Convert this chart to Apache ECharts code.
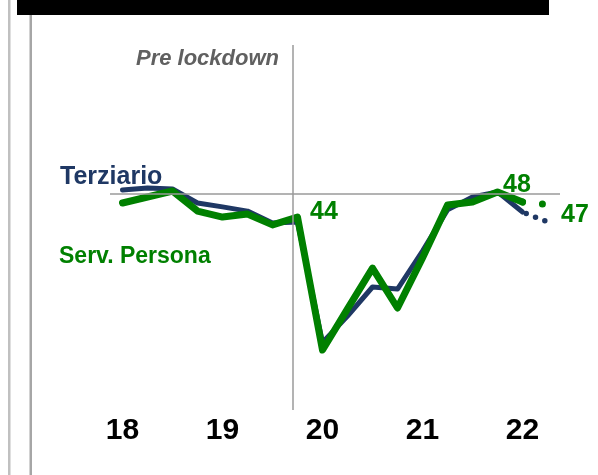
<!DOCTYPE html>
<html>
<head>
<meta charset="utf-8">
<script src="https://cdn.jsdelivr.net/npm/echarts@6/dist/echarts.min.js"></script>
<style>
  html, body { margin: 0; padding: 0; background: #ffffff; }
  #chart { width: 598px; height: 475px; }
</style>
</head>
<body>
<div id="chart"></div>
<script>
// ---- data ----
const quarters = ['2018 T1','2018 T2','2018 T3','2018 T4','2019 T1','2019 T2','2019 T3','2019 T4',
                  '2020 T1','2020 T2','2020 T3','2020 T4','2021 T1','2021 T2','2021 T3','2021 T4',
                  '2022 T1','2022 T2'];
const yearTicks = ['18','19','20','21','22'];
const terziario   = [48.4, 48.75, 48.6, 46.25, 45.6, 44.9, 42.9, 43.1, 23.0, 27.4, 32.25, 31.9, 38.25, 45.1, 47.25, 48.1, 44.75];
const servPersona = [46.25, 47.25, 48.25, 44.9, 43.9, 44.4, 42.6, 43.9, 21.75, 28.6, 35.4, 28.75, 37.1, 45.9, 46.4, 48.1, 46.4];
const terziarioNext = 43.1;     // dotted extension (2022 T2)
const servPersonaNext = 46.0;   // dotted extension (2022 T2)
const preLockdownLevel = 47.75;
const preLockdownQuarter = 7.32;
const labelQuarters = ['2019 T4', '2021 T4', '2022 T2'];
const labelTexts = ['44', '48', '47'];

// ---- styles ----
const GREEN = '#008000';
const NAVY = '#1f3864';
const FONT = '"Liberation Sans", Arial, sans-serif';

const chart = echarts.init(document.getElementById('chart'), null, { renderer: 'canvas' });

function dotted(values, nextVal) {
  const arr = quarters.map(() => null);
  arr[values.length - 1] = values[values.length - 1];
  arr[values.length] = nextVal;
  return arr;
}

const greenFull = servPersona.concat([servPersonaNext]);
const labelStyles = [
  { distance: 12, offset: [0, -5] },
  { distance: 5, offset: [0, -7] },
  { distance: 13, offset: [0, 11] }
];
const labelData = labelQuarters.map((q, k) => ({
  value: [q, greenFull[quarters.indexOf(q)]],
  label: {
    show: true, position: 'right', distance: labelStyles[k].distance, offset: labelStyles[k].offset,
    formatter: labelTexts[k]
  }
}));

const option = {
  animation: false,
  backgroundColor: '#ffffff',
  grid: { left: 110, right: 38, top: 45, bottom: 65, containLabel: false },
  xAxis: [
    {
      type: 'category',
      data: quarters,
      boundaryGap: true,
      axisLine: { show: false },
      axisTick: { show: false },
      splitLine: { show: false },
      axisLabel: {
        interval: 0,
        margin: 6,
        color: '#000',
        fontSize: 30,
        fontWeight: 'bold',
        fontFamily: FONT,
        formatter: (val, idx) => (idx % 4 === 0 && yearTicks[idx / 4] !== undefined) ? yearTicks[idx / 4] : ''
      }
    },
    { type: 'value', min: 0, max: quarters.length, show: false }
  ],
  yAxis: {
    type: 'value', min: 11.75, max: 72.5833, show: false,
    splitLine: { show: false }
  },
  series: [
    {
      type: 'line', xAxisIndex: 1, data: [], silent: true,
      markLine: {
        silent: true, symbol: 'none', label: { show: false },
        lineStyle: { color: '#9a9a9a', width: 1.5, type: 'solid' },
        data: [{ xAxis: preLockdownQuarter }, { yAxis: preLockdownLevel }]
      }
    },
    {
      name: 'Terziario dotted', type: 'line', data: dotted(terziario, terziarioNext),
      symbol: 'none', connectNulls: false, silent: true,
      lineStyle: { color: NAVY, width: 5.5, type: [0, 10], dashOffset: -4, cap: 'round' }
    },
    {
      name: 'Terziario', type: 'line', data: terziario,
      symbol: 'none', silent: true,
      lineStyle: { color: NAVY, width: 5, cap: 'round', join: 'round' }
    },
    {
      name: 'Serv. Persona dotted', type: 'line', data: dotted(servPersona, servPersonaNext),
      symbol: 'none', connectNulls: false, silent: true,
      lineStyle: { color: GREEN, width: 7, type: [0, 20], dashOffset: 0, cap: 'round' }
    },
    {
      name: 'Serv. Persona', type: 'line', data: servPersona,
      symbol: 'none', silent: true,
      lineStyle: { color: GREEN, width: 7, cap: 'round', join: 'round' }
    },
    {
      name: 'labels', type: 'scatter', data: labelData, silent: true,
      symbolSize: 1, itemStyle: { color: 'rgba(0,0,0,0)', opacity: 1 }, z: 10,
      label: { show: true, color: GREEN, opacity: 1, fontSize: 25, fontWeight: 'bold', fontFamily: FONT }
    }
  ],
  graphic: [
    { type: 'rect', left: 17, top: 0, shape: { width: 532, height: 15 }, style: { fill: '#000' }, silent: true },
    { type: 'rect', left: 8, top: 0, shape: { width: 2.5, height: 475 }, style: { fill: '#c0c0c0' }, silent: true },
    { type: 'rect', left: 29.5, top: 15, shape: { width: 2.5, height: 460 }, style: { fill: '#a6a6a6' }, silent: true },
    { type: 'text', x: 279, y: 59, style: { text: 'Pre lockdown', fill: '#606060', font: 'italic bold 22px ' + FONT, textAlign: 'right', textVerticalAlign: 'middle' }, silent: true },
    { type: 'text', x: 60, y: 177, style: { text: 'Terziario', fill: NAVY, font: 'bold 25px ' + FONT, textAlign: 'left', textVerticalAlign: 'middle' }, silent: true },
    { type: 'text', x: 59, y: 257, style: { text: 'Serv. Persona', fill: GREEN, font: 'bold 23px ' + FONT, textAlign: 'left', textVerticalAlign: 'middle' }, silent: true }
  ]
};

chart.setOption(option);
</script>
</body>
</html>
